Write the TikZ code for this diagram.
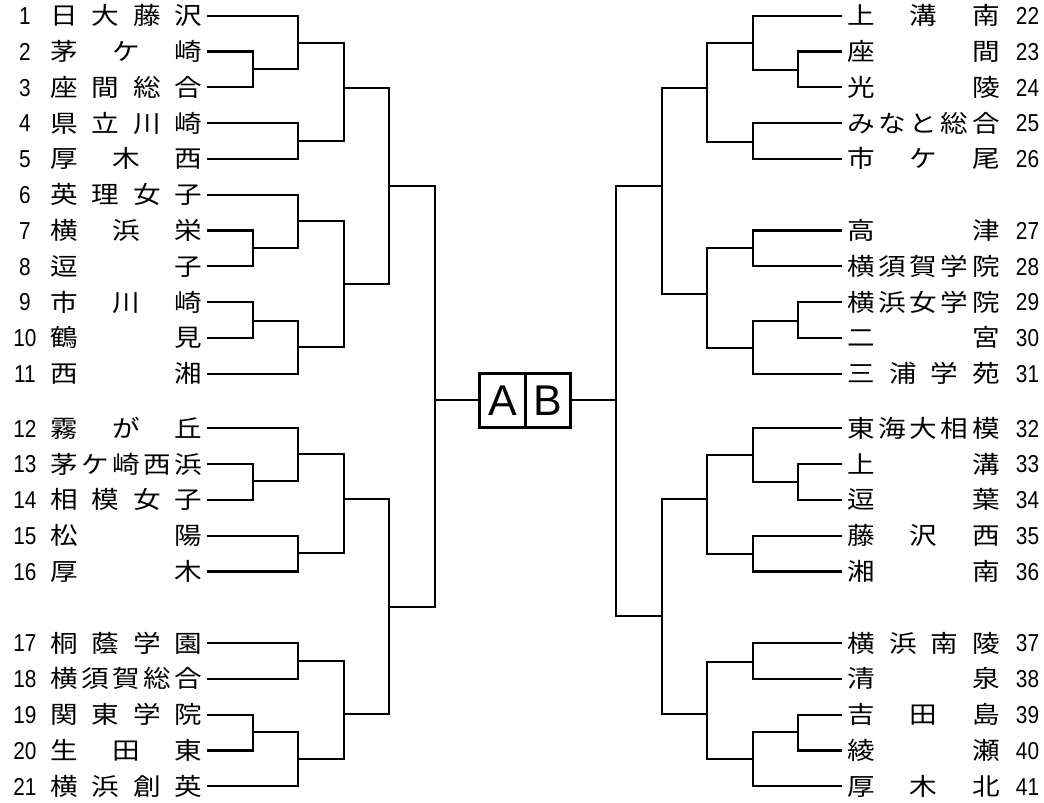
\documentclass[tikz,border=0pt]{standalone}
\usepackage{fontspec}
\newfontfamily\jp[FakeStretch=1.15]{Noto Sans CJK JP}
\newfontfamily\lat{Liberation Sans}
\newfontfamily\digits[FakeStretch=0.85]{Liberation Sans}
\usetikzlibrary{calc}
\newcommand\jbox[1]{\makebox[152pt]{#1}}
\newcommand\mt[5]{\coordinate (#1) at (#4,#5); \draw[ln] (#2) -| (#1) |- (#3);}
\tikzset{
  ln/.style={line width=2.2pt},
  tm/.style={inner sep=0pt, font=\jp\fontsize{24pt}{24pt}\selectfont, text height=21pt, text depth=3pt},
  num/.style={inner sep=0pt, font=\digits\fontsize{24.5pt}{24.5pt}\selectfont, text height=17.5pt, text depth=0pt},
  cell/.style={draw, line width=3pt, inner sep=0pt, minimum width=45.3pt, minimum height=53.4pt, font=\lat\fontsize{43pt}{43pt}\selectfont}
}
\begin{document}
\begin{tikzpicture}[x=1pt,y=-1pt]
\useasboundingbox (0,0) rectangle (1044,803);
% left teams
\foreach \i/\y/\nm in {
 1/15.7/{日\hfill 大\hfill 藤\hfill 沢},
 2/51.5/{茅\hfill ケ\hfill 崎},
 3/87.3/{座\hfill 間\hfill 総\hfill 合},
 4/123.1/{県\hfill 立\hfill 川\hfill 崎},
 5/158.9/{厚\hfill 木\hfill 西},
 6/194.7/{英\hfill 理\hfill 女\hfill 子},
 7/230.5/{横\hfill 浜\hfill 栄},
 8/266.3/{逗\hfill 子},
 9/302.1/{市\hfill 川\hfill 崎},
 10/337.9/{鶴\hfill 見},
 11/373.7/{西\hfill 湘},
 12/428.3/{霧\hfill が\hfill 丘},
 13/464.1/{茅\hfill ケ\hfill 崎\hfill 西\hfill 浜},
 14/499.9/{相\hfill 模\hfill 女\hfill 子},
 15/535.7/{松\hfill 陽},
 16/571.5/{厚\hfill 木},
 17/643.1/{桐\hfill 蔭\hfill 学\hfill 園},
 18/678.9/{横\hfill 須\hfill 賀\hfill 総\hfill 合},
 19/714.7/{関\hfill 東\hfill 学\hfill 院},
 20/750.5/{生\hfill 田\hfill 東},
 21/786.3/{横\hfill 浜\hfill 創\hfill 英}}
{
  \node[num] (c\i) at (25,\y) {\i};
  \node[tm] (n\i) at (126.5,\y) {\jbox{\nm}};
  \coordinate (t\i) at (207,\y);
}
% right teams
\foreach \i/\y/\nm in {
 22/15.7/{上\hfill 溝\hfill 南},
 23/51.5/{座\hfill 間},
 24/87.3/{光\hfill 陵},
 25/123.1/{み\hfill な\hfill と\hfill 総\hfill 合},
 26/158.9/{市\hfill ケ\hfill 尾},
 27/230.5/{高\hfill 津},
 28/266.3/{横\hfill 須\hfill 賀\hfill 学\hfill 院},
 29/302.1/{横\hfill 浜\hfill 女\hfill 学\hfill 院},
 30/337.9/{二\hfill 宮},
 31/373.7/{三\hfill 浦\hfill 学\hfill 苑},
 32/428.3/{東\hfill 海\hfill 大\hfill 相\hfill 模},
 33/464.1/{上\hfill 溝},
 34/499.9/{逗\hfill 葉},
 35/535.7/{藤\hfill 沢\hfill 西},
 36/571.5/{湘\hfill 南},
 37/643.1/{横\hfill 浜\hfill 南\hfill 陵},
 38/678.9/{清\hfill 泉},
 39/714.7/{吉\hfill 田\hfill 島},
 40/750.5/{綾\hfill 瀬},
 41/786.3/{厚\hfill 木\hfill 北}}
{
  \node[num] (c\i) at (1027.5,\y) {\i};
  \node[tm] (n\i) at (923.7,\y) {\jbox{\nm}};
  \coordinate (t\i) at (841.7,\y);
}
% left bracket
\mt{a23}{t2}{t3}{253}{69.3}
\mt{a13}{t1}{a23}{297.7}{42.7}
\mt{a45}{t4}{t5}{297.7}{141}
\mt{a15}{a13}{a45}{343.7}{87.7}
\mt{a78}{t7}{t8}{253}{248.3}
\mt{a68}{t6}{a78}{297.7}{221}
\mt{a910}{t9}{t10}{253}{320.7}
\mt{a911}{a910}{t11}{297.7}{346.7}
\mt{a611}{a68}{a911}{343.7}{284.3}
\mt{aT}{a15}{a611}{389}{185.7}
\mt{a1314}{t13}{t14}{253}{481}
\mt{a1214}{t12}{a1314}{297.7}{454}
\mt{a1516}{t15}{t16}{297.7}{553.3}
\mt{a1216}{a1214}{a1516}{343.7}{499.3}
\mt{a1718}{t17}{t18}{297.7}{660.7}
\mt{a1920}{t19}{t20}{253}{731.7}
\mt{a1921}{a1920}{t21}{297.7}{759.3}
\mt{a1721}{a1718}{a1921}{343.7}{714}
\mt{aB}{a1216}{a1721}{389}{606.7}
\mt{aF}{aT}{aB}{434.7}{400}
% right bracket
\mt{b2324}{t23}{t24}{798}{70}
\mt{b2224}{t22}{b2324}{753.3}{42.7}
\mt{b2526}{t25}{t26}{753.3}{141.7}
\mt{b2226}{b2224}{b2526}{707.3}{87.7}
\mt{b2728}{t27}{t28}{753.3}{248.3}
\mt{b2930}{t29}{t30}{798}{321}
\mt{b2931}{b2930}{t31}{753.3}{347.7}
\mt{b2731}{b2728}{b2931}{707.3}{294}
\mt{bT}{b2226}{b2731}{661.7}{186}
\mt{b3334}{t33}{t34}{798}{481.7}
\mt{b3234}{t32}{b3334}{753.3}{455}
\mt{b3536}{t35}{t36}{753.3}{554}
\mt{b3236}{b3234}{b3536}{707.3}{499.3}
\mt{b3738}{t37}{t38}{753.3}{661.7}
\mt{b3940}{t39}{t40}{798}{731.7}
\mt{b3941}{b3940}{t41}{753.3}{759.3}
\mt{b3741}{b3738}{b3941}{707.3}{714.3}
\mt{bB}{b3236}{b3741}{661.7}{616}
\mt{bF}{bT}{bB}{616}{400}
% final box
\node[cell] (A) at (502.6,400.5) {A};
\node[cell] (B) at (547.9,400.5) {B};
\draw[ln] (aF) -- (A.west |- aF);
\draw[ln] (B.east |- bF) -- (bF);
\end{tikzpicture}
\end{document}
